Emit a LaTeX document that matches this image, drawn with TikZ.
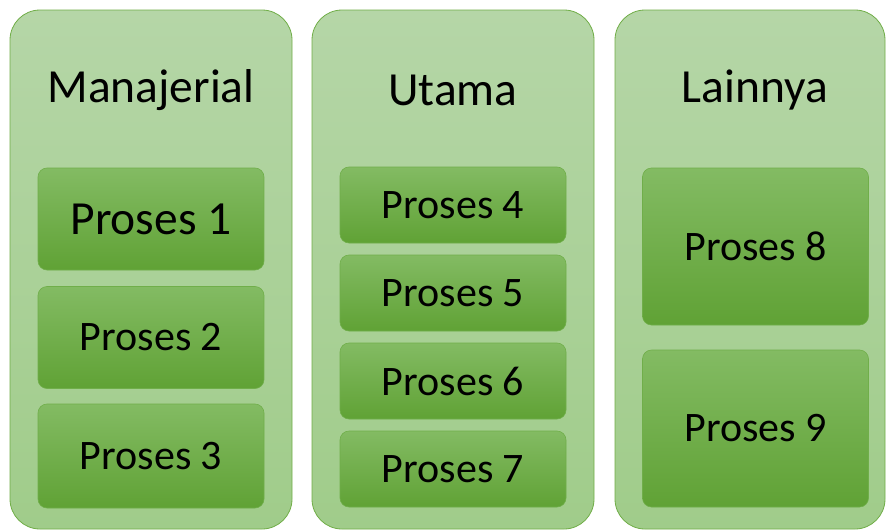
\documentclass[tikz,border=0pt]{standalone}
\usepackage{fontspec}
\setmainfont{Carlito}
\definecolor{outtop}{RGB}{181,214,167}
\definecolor{outbot}{RGB}{160,204,138}
\definecolor{outline}{RGB}{112,173,71}
\definecolor{intop}{RGB}{131,187,99}
\definecolor{inbot}{RGB}{96,162,53}
\definecolor{inline}{RGB}{112,174,74}
\begin{document}
\begin{tikzpicture}[x=1pt,y=-1pt,
  outerbox/.style={draw=outline, line width=0.8pt, rounded corners=30pt, top color=outtop, bottom color=outbot, minimum width=282pt, minimum height=519pt, inner sep=0pt},
  procbox/.style={draw=inline, line width=0.6pt, rounded corners=9pt, top color=intop, bottom color=inbot, minimum width=226pt, inner sep=0pt, font=\fontsize{42}{48}\selectfont},
  titletext/.style={inner sep=0pt, font=\fontsize{47.5}{54}\selectfont}]
\useasboundingbox (0,0) rectangle (886,530);
% columns
\node[outerbox] (c1) at (151,269.5) {};
\node[outerbox] (c2) at (453,269.5) {};
\node[outerbox, minimum width=270pt] (c3) at (750,269.5) {};
% titles
\node[titletext] (t1) at (151,90) {Manajerial};
\node[titletext] (t2) at (453,90) {Utama};
\node[titletext] (t3) at (755,90) {Lainnya};
% column 1
\node[procbox, minimum height=102pt, font=\fontsize{47.5}{54}\selectfont] (p1) at (151,219) {Proses 1};
\node[procbox, minimum height=102pt] (p2) at (151,337.5) {Proses 2};
\node[procbox, minimum height=104pt] (p3) at (151,456) {Proses 3};
% column 2
\node[procbox, minimum height=76pt] (p4) at (453,205) {Proses 4};
\node[procbox, minimum height=76pt] (p5) at (453,293) {Proses 5};
\node[procbox, minimum height=76pt] (p6) at (453,381) {Proses 6};
\node[procbox, minimum height=76pt] (p7) at (453,469) {Proses 7};
% column 3
\node[procbox, minimum height=157pt] (p8) at (755.5,246.5) {Proses 8};
\node[procbox, minimum height=157pt] (p9) at (755.5,428.5) {Proses 9};
\end{tikzpicture}
\end{document}
